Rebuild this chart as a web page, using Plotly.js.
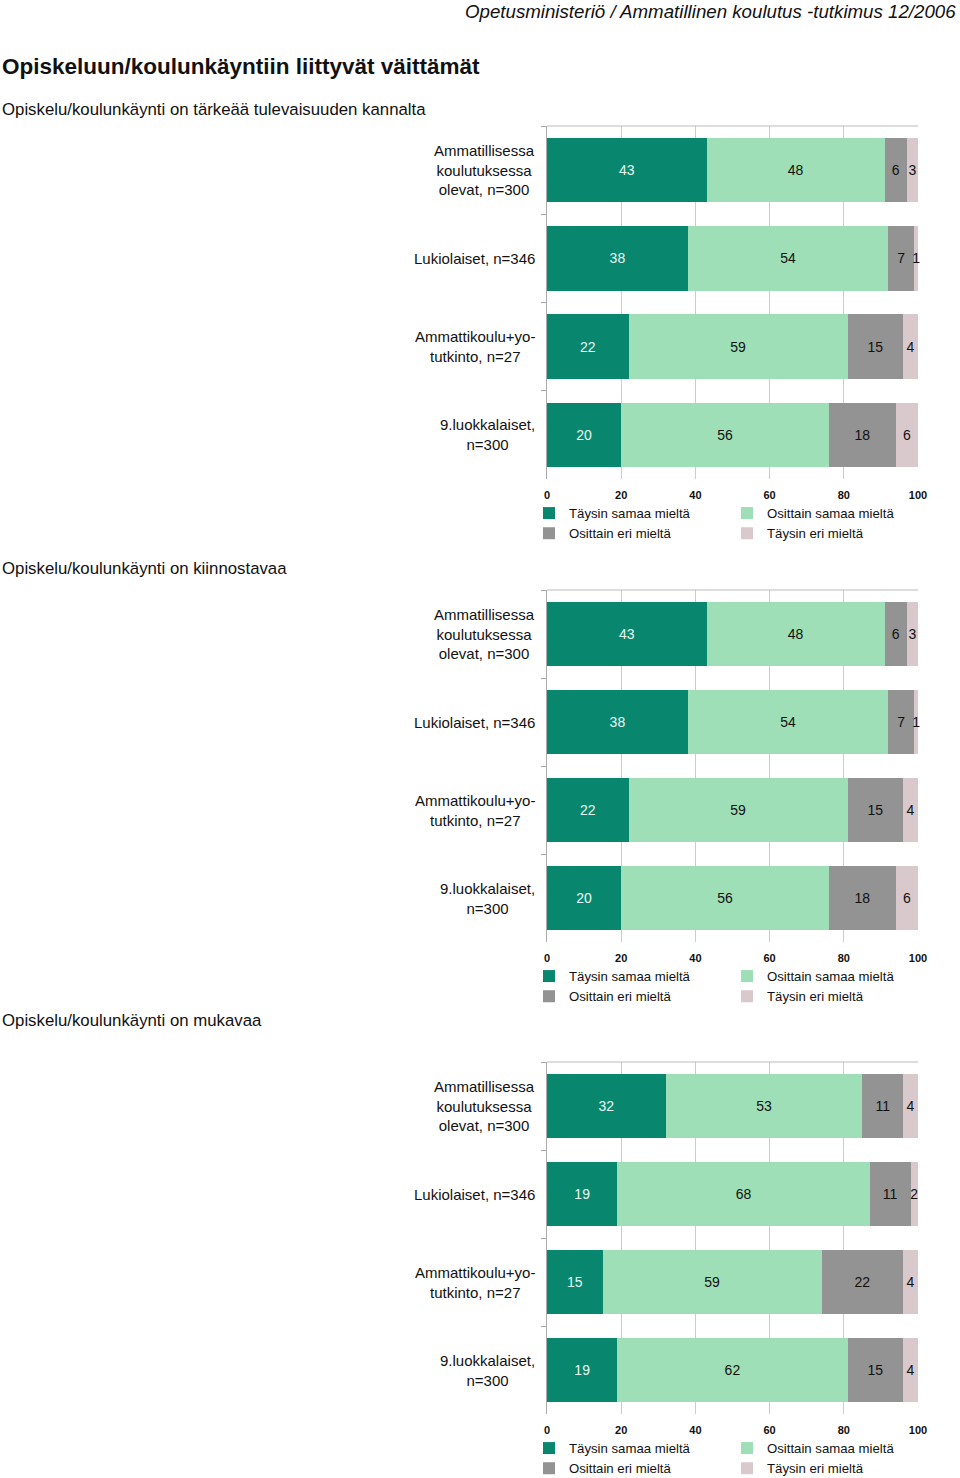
<!DOCTYPE html>
<html>
<head>
<meta charset="utf-8">
<script src="https://cdn.plot.ly/plotly-3.0.1.min.js"></script>
<style>
html,body{margin:0;padding:0;background:#fff;}
#chart{width:960px;height:1478px;}
</style>
</head>
<body>
<div id="chart"></div>
<script>
// ---- data ----
const categories = [
  "Ammatillisessa<br>koulutuksessa<br>olevat, n=300",
  "Lukiolaiset, n=346",
  "Ammattikoulu+yo-<br>tutkinto, n=27",
  "9.luokkalaiset,<br>n=300"
];
const seriesNames = ["Täysin samaa mieltä", "Osittain samaa mieltä", "Osittain eri mieltä", "Täysin eri mieltä"];
const headerText = "Opetusministeriö / Ammatillinen koulutus -tutkimus 12/2006";
const mainTitle = "Opiskeluun/koulunkäyntiin liittyvät väittämät";
const sectionTitles = [
  "Opiskelu/koulunkäynti on tärkeää tulevaisuuden kannalta",
  "Opiskelu/koulunkäynti on kiinnostavaa",
  "Opiskelu/koulunkäynti on mukavaa"
];
const xTickValues = [0, 20, 40, 60, 80, 100];

// Chart 1: tärkeää tulevaisuuden kannalta
const tarkeaaTaysinSamaa   = [43, 38, 22, 20];
const tarkeaaOsittainSamaa = [48, 54, 59, 56];
const tarkeaaOsittainEri   = [6, 7, 15, 18];
const tarkeaaTaysinEri     = [3, 1, 4, 6];
// Chart 2: kiinnostavaa
const kiinnostavaaTaysinSamaa   = [43, 38, 22, 20];
const kiinnostavaaOsittainSamaa = [48, 54, 59, 56];
const kiinnostavaaOsittainEri   = [6, 7, 15, 18];
const kiinnostavaaTaysinEri     = [3, 1, 4, 6];
// Chart 3: mukavaa
const mukavaaTaysinSamaa   = [32, 19, 15, 19];
const mukavaaOsittainSamaa = [53, 68, 59, 62];
const mukavaaOsittainEri   = [11, 11, 22, 15];
const mukavaaTaysinEri     = [4, 2, 4, 4];

const chartSeries = [
  [tarkeaaTaysinSamaa, tarkeaaOsittainSamaa, tarkeaaOsittainEri, tarkeaaTaysinEri],
  [kiinnostavaaTaysinSamaa, kiinnostavaaOsittainSamaa, kiinnostavaaOsittainEri, kiinnostavaaTaysinEri],
  [mukavaaTaysinSamaa, mukavaaOsittainSamaa, mukavaaOsittainEri, mukavaaTaysinEri]
];

// ---- styles ----
const W = 960, H = 1478;
const FONT = "Liberation Sans, Arial, Helvetica, sans-serif";
const colors = ["#08876E", "#9EDFB7", "#939393", "#D9C9CC"];
const textColors = ["#e9f7f1", "#111111", "#111111", "#111111"];
const plotLeft = 547, plotRight = 918;
const plotTops = [126, 590, 1062];
const plotBottoms = [479, 942, 1414];
const sectionTitleY = [109, 568, 1020];
const legendTops = [498, 961, 1433];
const legendCol1X = 529, legendCol2X = 727;

const px = v => v / W;
const py = v => 1 - v / H;

const traces = [];
const layout = {
  width: W, height: H,
  margin: {l: 0, r: 0, t: 0, b: 0, autoexpand: false},
  paper_bgcolor: "#ffffff",
  plot_bgcolor: "rgba(0,0,0,0)",
  barmode: "stack",
  bargap: 0.27,
  font: {family: FONT, color: "#111"},
  hovermode: false,
  annotations: [],
  shapes: []
};

chartSeries.forEach((series, c) => {
  const sfx = c === 0 ? "" : String(c + 1);
  series.forEach((vals, s) => {
    const legNum = c * 2 + (s % 2) + 1;
    traces.push({
      type: "bar",
      orientation: "h",
      x: vals,
      y: categories,
      xaxis: "x" + sfx,
      yaxis: "y" + sfx,
      name: seriesNames[s],
      legend: legNum === 1 ? "legend" : "legend" + legNum,
      marker: {color: colors[s], line: {width: 0}},
      texttemplate: "%{x}",
      textposition: "inside",
      insidetextanchor: "middle",
      constraintext: "none",
      textangle: 0,
      textfont: {family: FONT, size: 14, color: textColors[s]},
      cliponaxis: false
    });
  });

  layout["xaxis" + sfx] = {
    domain: [px(plotLeft), px(plotRight)],
    anchor: "y" + sfx,
    range: [0, 100],
    tickvals: xTickValues,
    ticks: "outside", ticklen: 6, tickcolor: "rgba(0,0,0,0)",
    tickfont: {family: FONT, size: 11, color: "#111", weight: "bold"},
    showgrid: true, gridcolor: "#cccccc", gridwidth: 1,
    zeroline: false, showline: false, fixedrange: true
  };
  layout["yaxis" + sfx] = {
    domain: [py(plotBottoms[c]), py(plotTops[c])],
    anchor: "x" + sfx,
    type: "category",
    autorange: "reversed",
    showticklabels: false,
    ticks: "outside", tickson: "boundaries", ticklen: 5, tickcolor: "#aaaaaa",
    showline: true, linecolor: "#aaaaaa", linewidth: 1,
    showgrid: false, zeroline: false, fixedrange: true
  };
  // top border line of plot area
  layout.shapes.push({
    type: "line", xref: "x" + sfx + " domain", yref: "y" + sfx + " domain",
    x0: 0, x1: 1, y0: 1, y1: 1,
    line: {color: "#bbbbbb", width: 1}
  });
  // category labels (centered multi-line)
  categories.forEach(cat => {
    layout.annotations.push({
      xref: "paper", yref: "y" + sfx,
      x: px(537), y: cat,
      xanchor: "right", yanchor: "middle",
      text: cat, align: "center", showarrow: false,
      font: {family: FONT, size: 15, color: "#111"}
    });
  });
  // section title
  layout.annotations.push({
    xref: "paper", yref: "paper",
    x: 0, y: py(sectionTitleY[c]),
    xanchor: "left", yanchor: "middle",
    text: sectionTitles[c], showarrow: false,
    font: {family: FONT, size: 16.8, color: "#111"}
  });
  // legends (two columns)
  [legendCol1X, legendCol2X].forEach((lx, k) => {
    const legNum = c * 2 + k + 1;
    layout[legNum === 1 ? "legend" : "legend" + legNum] = {
      x: px(lx), y: py(legendTops[c]),
      xanchor: "left", yanchor: "top",
      orientation: "v", traceorder: "normal",
      bgcolor: "rgba(0,0,0,0)", borderwidth: 0,
      font: {family: FONT, size: 13.2, color: "#111"},
      itemclick: false, itemdoubleclick: false
    };
  });
});

layout.annotations.push({
  xref: "paper", yref: "paper", x: px(958), y: py(11),
  xanchor: "right", yanchor: "middle", showarrow: false,
  text: "<i>" + headerText + "</i>",
  font: {family: FONT, size: 18.7, color: "#111"}
});
layout.annotations.push({
  xref: "paper", yref: "paper", x: 0, y: py(66),
  xanchor: "left", yanchor: "middle", showarrow: false,
  text: "<b>" + mainTitle + "</b>",
  font: {family: FONT, size: 22.5, color: "#111"}
});

Plotly.newPlot("chart", traces, layout, {displayModeBar: false, staticPlot: true});
</script>
</body>
</html>
